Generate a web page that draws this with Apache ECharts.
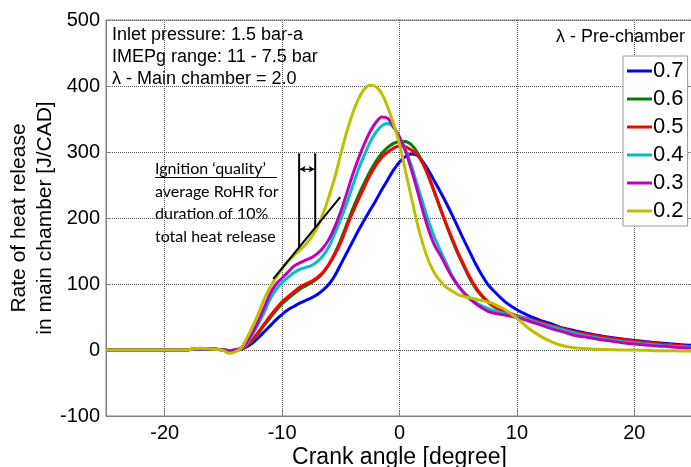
<!DOCTYPE html>
<html>
<head>
<meta charset="utf-8">
<script src="https://cdn.jsdelivr.net/npm/echarts@6/dist/echarts.min.js"></script>
<style>
html,body{margin:0;padding:0;background:#fff;}
#chart{width:691px;height:467px;}
</style>
</head>
<body>
<div id="chart"></div>
<script>
// Crank angle samples [degree]
const crankAngle = [-25,-24,-23,-22,-21,-20,-19,-18,-17,-16,-15,
  -14.5,-14,-13.5,-13,-12.5,-12,-11.5,-11,-10.5,-10,-9.5,-9,-8.5,-8,-7.5,-7,-6.5,-6,-5.5,-5,
  -4.5,-4,-3.5,-3,-2.5,-2,-1.5,-1,-0.5,0,0.5,1,1.5,2,2.5,3,3.5,4,4.5,5,5.5,6,6.5,7,7.5,8,
  9,10,11,12,13,14,15,16,17,18,19,20,21,22,23,24,25];

// Rate of heat release [J/CAD], one array per pre-chamber lambda
const rohr07 = [0,0,0,0,0,0,0,0.5,2,1.5,0,
  -1,-1,1,5,11,19,28,37,46,54,61,66,71,75,79,84,91,100,113,130,
  147,164,181,197,212,227,243,258,273,285,293,297,295,285,271,255,239,222,204,185,166,148,130,114,100,90,
  73,61,52,45,39,33,29,25,22,19,16.5,14.5,12.5,11,9.5,8,7];
const rohr06 = [0,0,0,0,0,0,0,0.5,2,1.5,0,
  -1,0,2,7,15,26,38,49,60,70,78,85,92,97,102,108,117,130,147,167,
  190,213,234,253,271,286,298,307,313,316,316,311,300,283,262,238,213,189,166,145,126,108,93,82,73,66,
  57,51,46,41,36,31,26,23,20,17,15,13,11,9,7.5,6,4.5];
const rohr05 = [0,0,0,0,0,0,0,0.5,2,1.5,0,
  -1,0,2,7,16,28,40,52,63,73,81,88,95,100,104,110,118,130,145,163,
  186,208,228,247,265,280,292,300,306,309,308,303,296,282,262,238,214,190,168,147,128,110,95,83,74,67,
  58,52,47,42,37,32,27,24,21,18,16,13.5,11.5,9.5,8,6.5,5];
const rohr04 = [0,0,0,0.5,0,0,0,0.5,2,1.5,0,
  -1,0,2,10,24,40,58,78,92,102,110,117,122,125,128,134,143,157,177,198,
  222,248,274,295,315,330,340,343,337,323,304,280,251,222,194,170,150,131,112,98,87,79,72,67,63,60,
  55,51,46,40,35,30,25,21,18,15,12.5,11,9,7.5,6,5,4];
const rohr03 = [0,0,0,0,0,0,0,0.5,2,1.5,0,
  -1,0,3,12,27,45,65,86,100,109,118,127,132,136,140,146,155,168,187,210,
  237,265,290,312,331,345,353,351,338,322,302,274,243,210,181,158,143,126,110,97,86,77,70,64,59,56,
  53,49,44,38,32,27,22,19,16,13.5,11,9,7.5,6,5,3.5,3];
const rohr02 = [0,0,0,0,0,0,0,0.5,2.5,1.5,-1,
  -5,-3,3,18,36,56,78,96,110,123,134,143,151,160,171,186,207,233,262,297,
  330,358,380,395,401,399,388,368,342,312,272,232,193,160,134,116,104,95,89,84,81,79,77,75,73,70,
  61,48,33,21,12,6,3,2,1,0.5,0,0,-0.5,-1,-1,-1.5,-1.5];

const seriesNames = ['0.7','0.6','0.5','0.4','0.3','0.2'];
const seriesValues = [rohr07, rohr06, rohr05, rohr04, rohr03, rohr02];
const seriesColors = ['#0000ff','#008000','#ff0000','#00bfbf','#bf00bf','#bfbf00'];

// Annotation: ignition quality construction lines (data coordinates)
const slopeLineX = [-10.75, -5.05];
const slopeLineY = [107.6, 231.8];
const marker1X = [-8.55, -8.55];
const marker1Y = [154, 298];
const marker2X = [-7.18, -7.18];
const marker2Y = [185, 298];
const arrowX = [-8.55, -7.18];
const arrowY = [274, 274];

const xTicks = [-20,-10,0,10,20];

function zip(xs, ys){ return xs.map((x,i)=>[x, ys[i]]); }

const chart = echarts.init(document.getElementById('chart'), null, {renderer:'canvas'});
const FONT = '"Liberation Sans", Arial, sans-serif';

const series = seriesNames.map((name,i)=>({
  name: name,
  type: 'line',
  data: zip(crankAngle, seriesValues[i]),
  showSymbol: false,
  symbol: 'none',
  smooth: 0.3,
  lineStyle: {color: seriesColors[i], width: 3},
  itemStyle: {color: seriesColors[i]},
  silent: true,
  z: 3
}));

const blackStyle = {color:'#000', width: 2};
[[slopeLineX,slopeLineY],[marker1X,marker1Y],[marker2X,marker2Y]].forEach(([xs,ys])=>{
  series.push({type:'line', data: zip(xs,ys), symbol:'none', showSymbol:false, lineStyle: blackStyle, silent:true, z:5});
});
series.push({
  type:'line', data: zip(arrowX, arrowY), symbol:'none', showSymbol:false,
  lineStyle:{color:'#000', width:1}, silent:true, z:5,
  markLine:{
    silent:true, symbol:['arrow','arrow'], symbolSize:[5,6], label:{show:false},
    lineStyle:{color:'#000', width:1, type:'solid'},
    data:[[{coord:[arrowX[0]+0.05, arrowY[0]]},{coord:[arrowX[1]-0.05, arrowY[1]]}]]
  }
});

const gridLineStyle = {color: '#555', type: 'dotted', width: 1};

const option = {
  animation: false,
  backgroundColor: '#fff',
  grid: {left: 106, right: -2, top: 20, bottom: 51, show: true, borderColor: '#808080', borderWidth: 1,
    backgroundColor: 'transparent', containLabel: false, outerBoundsMode: 'none'},
  xAxis: {
    type: 'value', min: -25, max: 25, splitNumber: 5,
    name: 'Crank angle [degree]', nameLocation: 'middle', nameGap: 30, nameMoveOverlap: false,
    nameTextStyle: {fontFamily: FONT, fontSize: 23, color: '#000'},
    axisLine: {show: true, onZero: false, lineStyle: {color: '#808080', width: 1}},
    axisTick: {show: true, inside: true, length: 5, lineStyle: {color: '#808080'}},
    axisLabel: {fontFamily: FONT, fontSize: 20, color: '#000', margin: 7,
      formatter: v => (xTicks.indexOf(v) >= 0 ? String(v) : '')},
    splitLine: {show: true, lineStyle: gridLineStyle}
  },
  yAxis: {
    type: 'value', min: -100, max: 500, interval: 100,
    name: 'Rate of heat release\nin main chamber [J/CAD]', nameLocation: 'middle', nameGap: 48, nameRotate: 90,
    nameMoveOverlap: false,
    nameTextStyle: {fontFamily: FONT, fontSize: 21, color: '#000', lineHeight: 26},
    axisLine: {show: true, onZero: false, lineStyle: {color: '#808080', width: 1}},
    axisTick: {show: true, inside: true, length: 5, lineStyle: {color: '#808080'}},
    axisLabel: {fontFamily: FONT, fontSize: 20, color: '#000', margin: 6},
    splitLine: {show: true, lineStyle: gridLineStyle}
  },
  legend: {
    data: seriesNames.map(n => ({name: n, icon: 'rect'})),
    orient: 'vertical', left: 623, top: 56,
    padding: [4, 4, 4, 4], itemGap: 6, itemWidth: 25, itemHeight: 3,
    backgroundColor: '#fff', borderColor: '#999', borderWidth: 1,
    textStyle: {fontFamily: FONT, fontSize: 22, color: '#000', padding: [0,0,0,-4], lineHeight: 22}
  },
  graphic: [
    {type:'text', x:112, y:35, style:{text:'Inlet pressure: 1.5 bar-a', font:'18px "Liberation Sans", Arial', fill:'#000', verticalAlign:'middle'}},
    {type:'text', x:112, y:57, style:{text:'IMEPg range: 11 - 7.5 bar', font:'18px "Liberation Sans", Arial', fill:'#000', verticalAlign:'middle'}},
    {type:'text', x:112, y:79, style:{text:'λ - Main chamber = 2.0', font:'18px "Liberation Sans", Arial', fill:'#000', verticalAlign:'middle'}},
    {type:'text', x:685, y:37, style:{text:'λ - Pre-chamber', font:'18px "Liberation Sans", Arial', fill:'#000', align:'right', verticalAlign:'middle'}},
    {type:'text', x:155, y:169, style:{text:'Ignition ‘quality’', font:'16px Lato, "Open Sans", sans-serif', fill:'#000', verticalAlign:'middle'}},
    {type:'line', shape:{x1:155, y1:177.5, x2:277, y2:177.5}, style:{stroke:'#000', lineWidth:1}},
    {type:'text', x:155, y:191.5, style:{text:'average RoHR for', font:'16px Lato, "Open Sans", sans-serif', fill:'#000', verticalAlign:'middle'}},
    {type:'text', x:155, y:214, style:{text:'duration of 10%', font:'16px Lato, "Open Sans", sans-serif', fill:'#000', verticalAlign:'middle'}},
    {type:'text', x:155, y:236.5, style:{text:'total heat release', font:'16px Lato, "Open Sans", sans-serif', fill:'#000', verticalAlign:'middle'}}
  ],
  series: series
};
chart.setOption(option);
</script>
</body>
</html>
